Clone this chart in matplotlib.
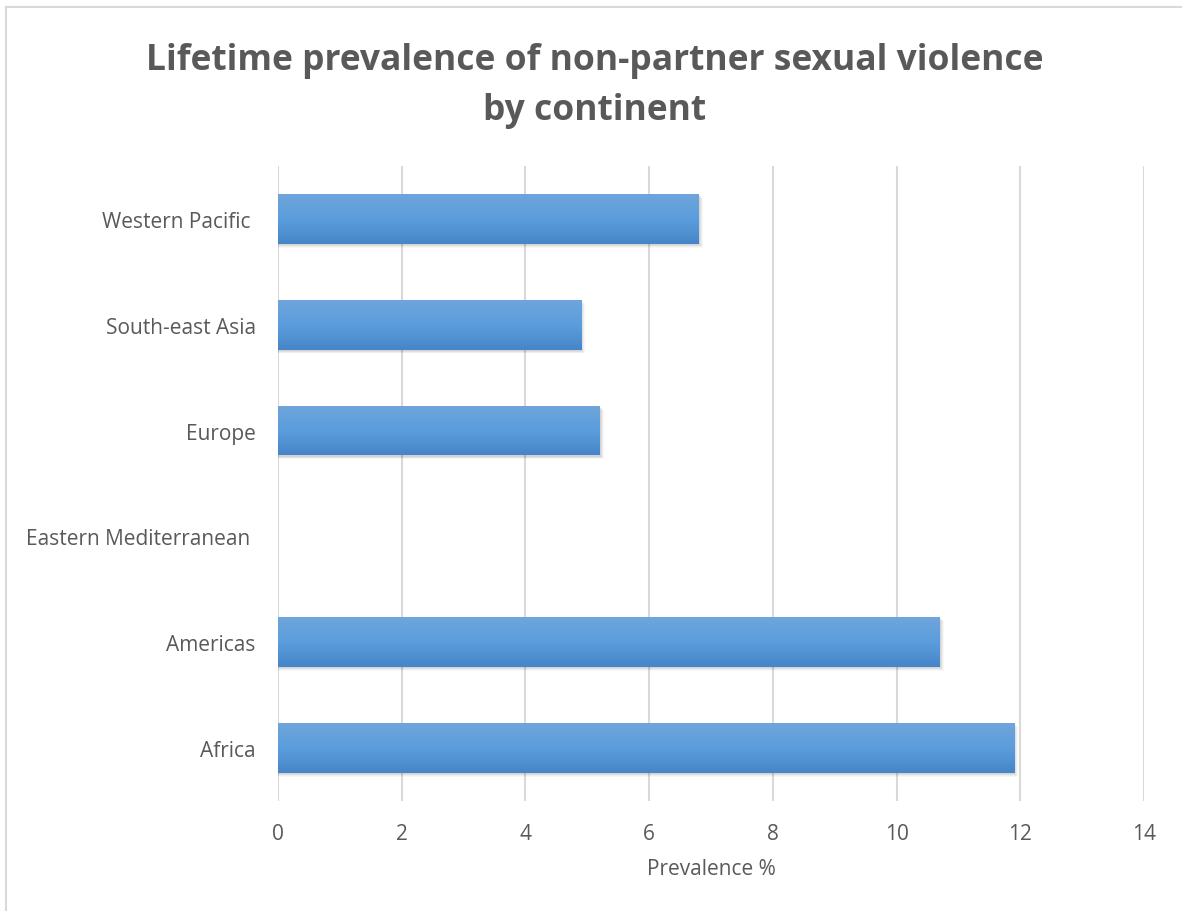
import numpy as np
import matplotlib
matplotlib.use("Agg")
import matplotlib.pyplot as plt
from matplotlib.colors import LinearSegmentedColormap
from matplotlib.lines import Line2D

regions = ["Africa", "Americas", "Eastern Mediterranean ", "Europe",
           "South-east Asia", "Western Pacific "]
prevalence = [11.9, 10.7, 0.0, 5.2, 4.9, 6.8]
x_ticks = [0, 2, 4, 6, 8, 10, 12, 14]

title = "Lifetime prevalence of non-partner sexual violence\nby continent"
x_label = "Prevalence %"

text_col = "#595959"
grid_col = "#d9d9d9"
bar_cmap = LinearSegmentedColormap.from_list(
    "bar", ["#6fa5db", "#5b9ddd", "#4686c8"])

plt.rcParams["font.family"] = ["Open Sans", "DejaVu Sans"]

fig = plt.figure(figsize=(11.82, 9.12), dpi=100)
ax = fig.add_axes([278 / 1182, 1 - 802 / 912, 866 / 1182, 635 / 912])

# chart frame (only left and top edges visible in the crop)
fig.add_artist(Line2D([6 / 1182, 6 / 1182], [0, 1 - 8 / 912],
                      transform=fig.transFigure, color="#d9d9d9", lw=1.5))
fig.add_artist(Line2D([6 / 1182, 1], [1 - 8 / 912, 1 - 8 / 912],
                      transform=fig.transFigure, color="#d9d9d9", lw=1.5))

y = np.arange(len(regions))
h = 0.47

# shadow
for yi, v in zip(y, prevalence):
    if v <= 0:
        continue
    for k, a in enumerate([0.06, 0.05, 0.04, 0.03]):
        off = 0.012 + k * 0.008
        ax.barh(yi - off, v + 0.02 + k * 0.015, height=h, left=0,
                color="black", alpha=a, zorder=2, lw=0)

bars = ax.barh(y, prevalence, height=h, color="none", zorder=3, lw=0)
grad = np.linspace(0, 1, 100).reshape(-1, 1)
for b in bars:
    if b.get_width() <= 0:
        continue
    x0, y0 = b.get_x(), b.get_y()
    im = ax.imshow(grad, cmap=bar_cmap, aspect="auto", zorder=3,
                   extent=[x0, x0 + b.get_width(), y0, y0 + b.get_height()],
                   origin="upper")
    im.set_clip_path(b)

ax.set_xlim(0, 14)
ax.set_ylim(-0.5, 5.5)
ax.set_xticks(x_ticks)
ax.set_xticklabels([str(t) for t in x_ticks])
ax.set_yticks(y)
ax.set_yticklabels(regions)
ax.xaxis.grid(True, color=grid_col, lw=1.5, zorder=0)
ax.set_axisbelow(True)
for s in ax.spines.values():
    s.set_visible(False)
ax.tick_params(axis="both", length=0, labelsize=15, colors=text_col)
ax.tick_params(axis="x", pad=16)
ax.tick_params(axis="y", pad=16)
ax.set_xlabel(x_label, fontsize=15, color=text_col, labelpad=10)

fig.text(0.503, 1 - 86 / 912, title, ha="center", va="center",
         fontsize=25.5, fontweight="bold", color=text_col, linespacing=1.5)

fig.savefig("out.png", dpi=100)
